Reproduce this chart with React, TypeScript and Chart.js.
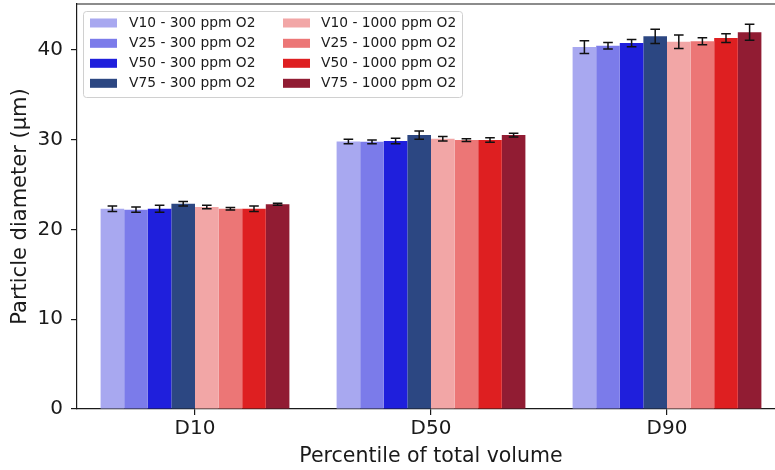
import React, { useEffect, useRef } from "react";
import { Chart, registerables } from "chart.js";

Chart.register(...registerables);

const categories = ["D10", "D50", "D90"];

const seriesLabels = [
  "V10 - 300 ppm O2",
  "V25 - 300 ppm O2",
  "V50 - 300 ppm O2",
  "V75 - 300 ppm O2",
  "V10 - 1000 ppm O2",
  "V25 - 1000 ppm O2",
  "V50 - 1000 ppm O2",
  "V75 - 1000 ppm O2",
];

const seriesColors = [
  "#a8a8f0",
  "#7b7bea",
  "#1f1fdc",
  "#2c4782",
  "#f2a6a6",
  "#ec7676",
  "#de1f21",
  "#911c33",
];

const v10_300 = [22.3, 29.8, 40.3];
const v25_300 = [22.2, 29.75, 40.45];
const v50_300 = [22.3, 29.85, 40.75];
const v75_300 = [22.85, 30.5, 41.5];
const v10_1000 = [22.5, 30.1, 40.9];
const v25_1000 = [22.3, 29.95, 40.95];
const v50_1000 = [22.3, 29.95, 41.3];
const v75_1000 = [22.8, 30.5, 41.95];

const e10_300 = [0.3, 0.25, 0.7];
const e25_300 = [0.3, 0.2, 0.35];
const e50_300 = [0.4, 0.3, 0.4];
const e75_300 = [0.25, 0.45, 0.8];
const e10_1000 = [0.2, 0.25, 0.75];
const e25_1000 = [0.15, 0.15, 0.4];
const e50_1000 = [0.3, 0.25, 0.5];
const e75_1000 = [0.1, 0.2, 0.9];

const seriesValues = [v10_300, v25_300, v50_300, v75_300, v10_1000, v25_1000, v50_1000, v75_1000];
const seriesErrors = [e10_300, e25_300, e50_300, e75_300, e10_1000, e25_1000, e50_1000, e75_1000];

const yTicks = [0, 10, 20, 30, 40];

const FONT = "'DejaVu Sans', sans-serif";
const INK = "#1a1a1a";

const errorBarPlugin = {
  id: "errorBars",
  afterDatasetsDraw(chart: any) {
    const ctx = chart.ctx;
    const y = chart.scales.y;
    ctx.save();
    ctx.strokeStyle = "#111";
    ctx.lineWidth = 1.5;
    chart.data.datasets.forEach((ds: any, i: number) => {
      const meta = chart.getDatasetMeta(i);
      meta.data.forEach((el: any, j: number) => {
        const v = ds.data[j];
        const e = ds.errors[j];
        const top = y.getPixelForValue(v + e);
        const bot = y.getPixelForValue(v - e);
        const x = el.x;
        const cap = 4.8;
        ctx.beginPath();
        ctx.moveTo(x, top);
        ctx.lineTo(x, bot);
        ctx.moveTo(x - cap, top);
        ctx.lineTo(x + cap, top);
        ctx.moveTo(x - cap, bot);
        ctx.lineTo(x + cap, bot);
        ctx.stroke();
      });
    });
    ctx.restore();
  },
};

const frameAndLegendPlugin = {
  id: "frameLegend",
  afterDraw(chart: any) {
    const ctx = chart.ctx;
    const a = chart.chartArea;
    ctx.save();
    // top spine
    ctx.strokeStyle = INK;
    ctx.lineWidth = 1.2;
    ctx.beginPath();
    ctx.moveTo(a.left - 0.6, a.top);
    ctx.lineTo(a.right, a.top);
    ctx.stroke();

    // legend box
    const bx = 83.5, by = 11.5, bw = 379, bh = 86, r = 3;
    ctx.beginPath();
    ctx.moveTo(bx + r, by);
    ctx.lineTo(bx + bw - r, by);
    ctx.quadraticCurveTo(bx + bw, by, bx + bw, by + r);
    ctx.lineTo(bx + bw, by + bh - r);
    ctx.quadraticCurveTo(bx + bw, by + bh, bx + bw - r, by + bh);
    ctx.lineTo(bx + r, by + bh);
    ctx.quadraticCurveTo(bx, by + bh, bx, by + bh - r);
    ctx.lineTo(bx, by + r);
    ctx.quadraticCurveTo(bx, by, bx + r, by);
    ctx.closePath();
    ctx.fillStyle = "rgba(255,255,255,0.85)";
    ctx.fill();
    ctx.strokeStyle = "#d0d0d0";
    ctx.lineWidth = 1;
    ctx.stroke();

    const colSwatchX = [90, 283];
    const colTextX = [129, 321];
    const rowY = [23, 43.3, 63.3, 83.3];
    ctx.font = `13.8px ${FONT}`;
    ctx.textBaseline = "middle";
    ctx.textAlign = "left";
    chart.data.datasets.forEach((ds: any, i: number) => {
      const col = Math.floor(i / 4);
      const row = i % 4;
      const cy = rowY[row];
      ctx.fillStyle = ds.backgroundColor;
      ctx.fillRect(colSwatchX[col], cy - 4.5, 27, 9);
      ctx.fillStyle = INK;
      ctx.fillText(ds.label, colTextX[col], cy + 0.5);
    });
    ctx.restore();
  },
};

export default function App() {
  const ref = useRef<HTMLCanvasElement | null>(null);

  useEffect(() => {
    if (!ref.current) return;
    const chart = new Chart(ref.current, {
      type: "bar",
      data: {
        labels: categories,
        datasets: seriesLabels.map((label, i) => ({
          label,
          data: seriesValues[i],
          errors: seriesErrors[i],
          backgroundColor: seriesColors[i],
          borderWidth: 0,
          categoryPercentage: 0.8,
          barPercentage: 1.0,
        })) as any,
      },
      options: {
        animation: false,
        responsive: false,
        devicePixelRatio: 1,
        layout: { padding: { left: 0, top: 4, right: 15, bottom: 0 } },
        plugins: {
          legend: { display: false },
          tooltip: { enabled: false },
        },
        scales: {
          x: {
            type: "category",
            offset: true,
            grid: {
              display: true,
              offset: false,
              drawOnChartArea: false,
              drawTicks: true,
              tickLength: 6,
              color: INK,
              lineWidth: 1.2,
            },
            border: { display: true, color: INK, width: 1.2 },
            ticks: {
              color: INK,
              font: { family: FONT, size: 20 },
              padding: 2,
              maxRotation: 0,
            },
            title: {
              display: true,
              text: "Percentile of total volume",
              color: INK,
              font: { family: FONT, size: 20.5 },
              padding: { top: 0, bottom: 1 },
            },
            afterFit(scale: any) {
              scale.height = 61;
              scale.paddingLeft = 0;
              scale.paddingRight = 0;
            },
          },
          y: {
            type: "linear",
            min: 0,
            max: 45.1,
            afterBuildTicks(scale: any) {
              scale.ticks = yTicks.map((v) => ({ value: v }));
            },
            grid: {
              display: true,
              drawOnChartArea: false,
              drawTicks: true,
              tickLength: 6,
              color: INK,
              lineWidth: 1.2,
            },
            border: { display: true, color: INK, width: 1.2 },
            ticks: {
              color: INK,
              font: { family: FONT, size: 20 },
              padding: 8,
            },
            title: {
              display: true,
              text: "Particle diameter (µm)",
              color: INK,
              font: { family: FONT, size: 21 },
              padding: { top: 8, bottom: 0 },
            },
            afterFit(scale: any) {
              scale.width = 77;
              scale.paddingTop = 0;
              scale.paddingBottom = 0;
            },
          },
        },
      },
      plugins: [errorBarPlugin, frameAndLegendPlugin],
    });
    return () => chart.destroy();
  }, []);

  return (
    <div
      style={{
        position: "fixed",
        left: 0,
        top: 0,
        width: 775,
        height: 470,
        overflow: "hidden",
        background: "#fff",
      }}
    >
      <canvas ref={ref} width={800} height={470} style={{ display: "block", width: 800, height: 470 }} />
    </div>
  );
}
